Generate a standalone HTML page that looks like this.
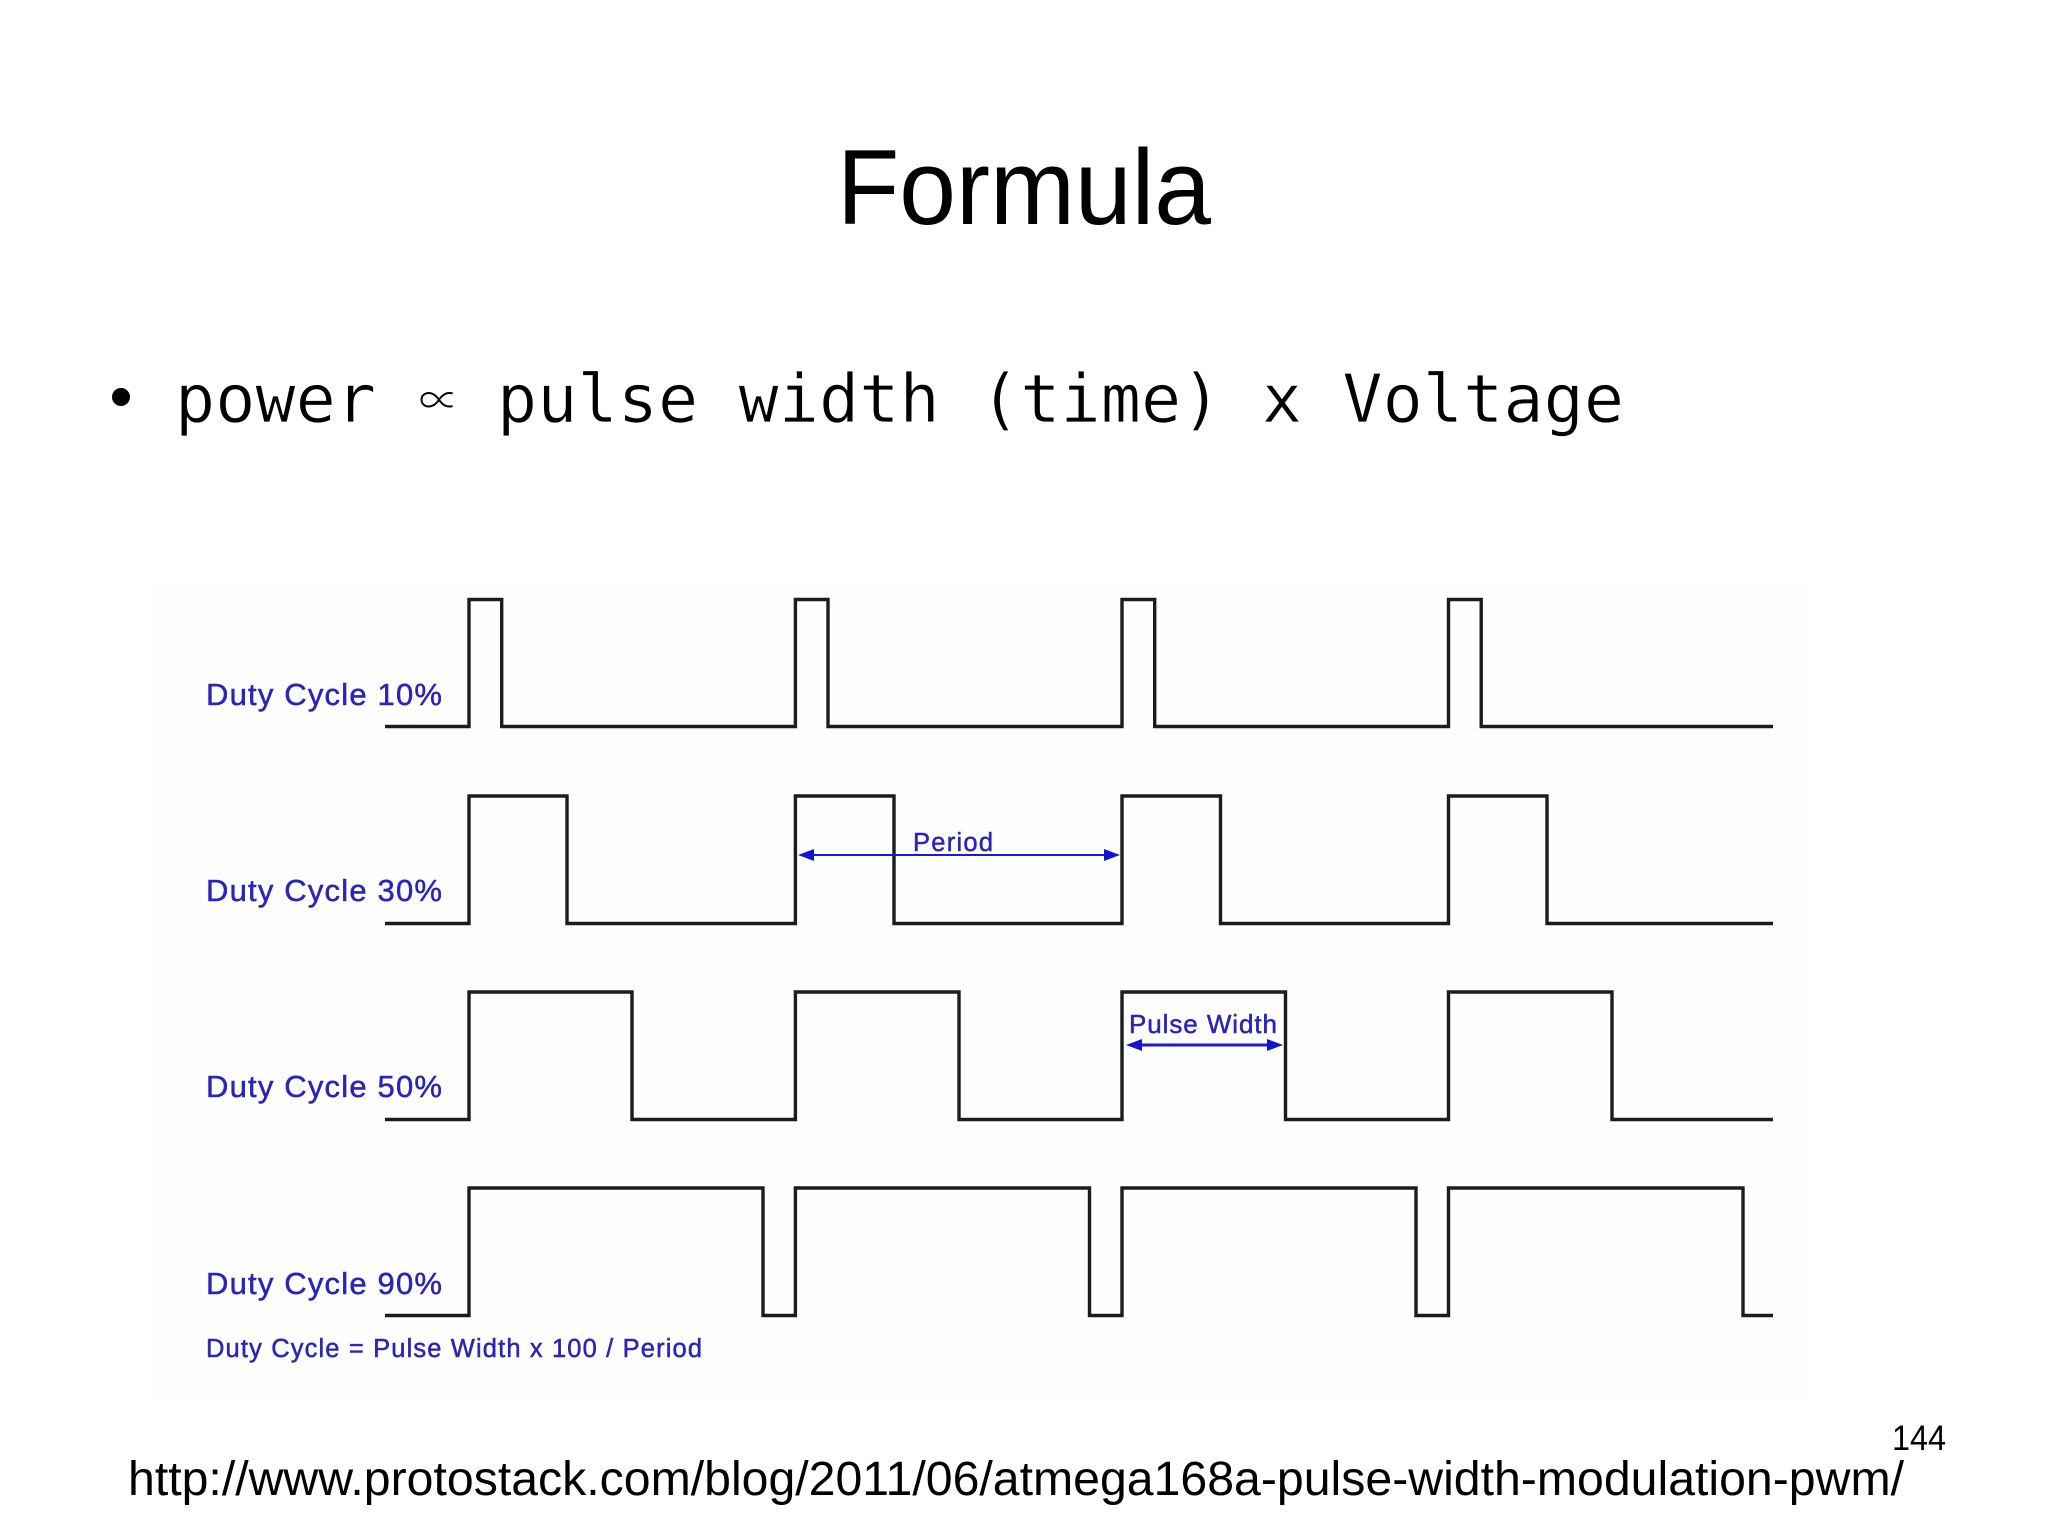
<!DOCTYPE html>
<html>
<head>
<meta charset="utf-8">
<title>Formula</title>
<style>
html,body{margin:0;padding:0;background:#fff;width:2048px;height:1536px;overflow:hidden}
svg{display:block}
.b{font-family:"Liberation Sans",Arial,sans-serif;fill:#2a25b8;stroke:#2a25b8;stroke-width:.5}
.s{font-family:"Liberation Sans",Arial,sans-serif;fill:#000}
.m{font-family:"DejaVu Sans Mono",monospace;font-size:66.7px;fill:#000;stroke:#fff;stroke-width:.7;paint-order:fill stroke}
</style>
</head>
<body>
<svg xmlns="http://www.w3.org/2000/svg" width="2048" height="1536" viewBox="0 0 2048 1536">
<rect width="2048" height="1536" fill="#fff"/>
<rect x="150" y="580" width="1660" height="820" fill="#fefefe"/>

<text class="s" x="837" y="224" font-size="107" textLength="374" lengthAdjust="spacingAndGlyphs">Formula</text>

<circle cx="121" cy="397" r="9" fill="#000"/>
<text class="m" x="175" y="422" textLength="201">power</text>
<text x="419" y="414.5" font-family="'Noto Sans CJK JP',sans-serif" font-size="40" font-weight="300" fill="#000">∝</text>
<text class="m" x="497" y="422" textLength="1127">pulse width (time) x Voltage</text>

<g fill="none" stroke="#1c1c1c" stroke-width="3.4" stroke-linejoin="miter">
<path d="M385 726.5H469V599.5H501.7V726.5H795.4V599.5H828V726.5H1122V599.5H1154.7V726.5H1448.5V599.5H1481.2V726.5H1773"/>
<path d="M385 923.5H469V796H567V923.5H795.4V796H894V923.5H1122V796H1220.5V923.5H1448.5V796H1547V923.5H1773"/>
<path d="M385 1119.5H469V992H632V1119.5H795.4V992H959V1119.5H1122V992H1285.5V1119.5H1448.5V992H1612V1119.5H1773"/>
<path d="M385 1315.5H469V1188H763V1315.5H795.4V1188H1089.5V1315.5H1122V1188H1416V1315.5H1448.5V1188H1743V1315.5H1773"/>
</g>

<text class="b" x="206" y="705" font-size="31" textLength="236">Duty Cycle 10%</text>
<text class="b" x="206" y="901" font-size="31" textLength="236">Duty Cycle 30%</text>
<text class="b" x="206" y="1097" font-size="31" textLength="236">Duty Cycle 50%</text>
<text class="b" x="206" y="1294" font-size="31" textLength="236">Duty Cycle 90%</text>
<text class="b" x="206" y="1357" font-size="25.5" textLength="496">Duty Cycle = Pulse Width x 100 / Period</text>

<text class="b" x="913" y="851" font-size="25.5" textLength="80">Period</text>
<line x1="805" y1="855" x2="1112" y2="855" stroke="#1a1ad0" stroke-width="2"/>
<polygon points="798,855 814,849 814,861" fill="#1414d0"/>
<polygon points="1120,855 1104,849 1104,861" fill="#1414d0"/>

<text class="b" x="1129" y="1033" font-size="26" textLength="148">Pulse Width</text>
<line x1="1135" y1="1045" x2="1275" y2="1045" stroke="#1a1ad0" stroke-width="3"/>
<polygon points="1126,1045 1142,1039 1142,1051" fill="#1414d0"/>
<polygon points="1283,1045 1267,1039 1267,1051" fill="#1414d0"/>

<text class="s" x="1892" y="1450" font-size="35" textLength="54" lengthAdjust="spacingAndGlyphs">144</text>
<text class="s" x="128" y="1495" font-size="48" textLength="1776" lengthAdjust="spacingAndGlyphs">http://www.protostack.com/blog/2011/06/atmega168a-pulse-width-modulation-pwm/</text>
</svg>
</body>
</html>
